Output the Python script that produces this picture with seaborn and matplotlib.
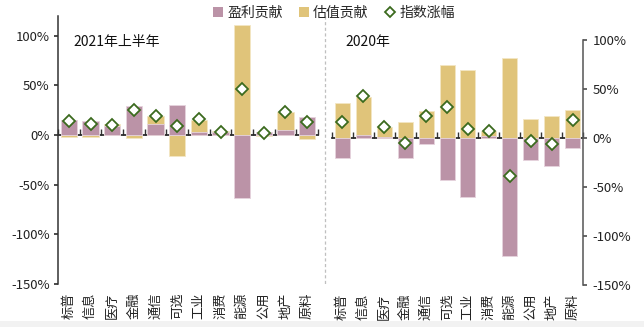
import numpy as np
import pandas as pd
import matplotlib
matplotlib.use("Agg")
import matplotlib.pyplot as plt
from matplotlib.patches import Patch, Rectangle
from matplotlib.lines import Line2D
import seaborn as sns

# ---------------- data ----------------
sectors = ["标普", "信息", "医疗", "金融", "通信", "可选", "工业", "消费", "能源", "公用", "地产", "原料"]

# 2021H1
earn_2021 = [15.7, 14.0, 9.6, 29.0, 11.0, 30.5, 3.5, 3.5, -63.4, 3.0, 5.6, 18.0]
val_2021 = [-1.5, -2.0, 1.3, -3.2, 8.4, -20.7, 12.2, 0.5, 110.6, -0.8, 17.4, -3.8]
idx_2021 = [14.3, 11.6, 10.6, 25.8, 19.4, 9.3, 16.3, 3.5, 46.7, 2.2, 23.7, 13.6]

# 2020
earn_2020 = [-19.9, 3.1, 1.4, -20.7, -5.8, -43.0, -60.3, 2.0, -120.6, -22.7, -29.0, -10.3]
val_2020 = [35.6, 39.0, 9.6, 15.9, 27.6, 74.9, 69.0, 5.0, 81.7, 19.0, 22.4, 28.3]
idx_2020 = [15.9, 42.4, 11.0, -4.8, 22.1, 31.7, 9.0, 7.6, -38.6, -3.4, -5.8, 18.3]

yticks_left = [100, 50, 0, -50, -100, -150]
yticks_right = [100, 50, 0, -50, -100, -150]
legend_labels = ["盈利贡献", "估值贡献", "指数涨幅"]
panel_titles = ["2021年上半年", "2020年"]

PURPLE = "#bb93a7"
GOLD = "#e0c47a"
GREEN = "#3b6a1e"
SPINE = "#333333"

sns.set_theme(style="white")
plt.rcParams["font.family"] = ["Noto Sans CJK SC", "DejaVu Sans"]
plt.rcParams["axes.unicode_minus"] = False

W, H = 644, 327
fig = plt.figure(figsize=(W / 100, H / 100), dpi=100)


def pct(v, pos=None):
    return f"{int(v)}%"


def draw_panel(ax, earn, val, idx, ylim, width):
    df = pd.DataFrame({"sector": sectors, "earn": earn, "val": val, "idx": idx})
    same = np.sign(df["earn"]) == np.sign(df["val"])
    df["val_top"] = np.where(same, df["earn"] + df["val"], df["val"])
    sns.barplot(data=df, x="sector", y="val_top", color=GOLD, saturation=1,
                width=width, edgecolor="#f3e6c4", linewidth=0.6, ax=ax, zorder=2)
    sns.barplot(data=df, x="sector", y="earn", color=PURPLE, saturation=1,
                width=width, edgecolor="#e6d3dd", linewidth=0.6, ax=ax, zorder=3)
    n_before = len(ax.lines)
    sns.pointplot(data=df, x="sector", y="idx", linestyle="none", markers="D",
                  color=GREEN, markersize=6.3, markeredgewidth=1.3,
                  errorbar=None, ax=ax, zorder=5)
    for ln in ax.lines[n_before:]:
        ln.set_markerfacecolor("white")
        ln.set_markeredgecolor(GREEN)
        ln.set_markeredgewidth(1.3)
        ln.set_markersize(6.3)
    ax.set_xlim(-0.5, len(sectors) - 0.5)
    ax.set_ylim(*ylim)
    ax.set_xlabel("")
    ax.set_ylabel("")
    ax.tick_params(axis="x", length=0, pad=6, labelsize=9.5, labelrotation=90,
                   colors="#222222")
    ax.spines["bottom"].set_visible(False)
    ax.spines["top"].set_visible(False)
    # zero line with category boundary ticks
    frac = -ylim[0] / (ylim[1] - ylim[0])
    sec = ax.secondary_xaxis(frac)
    sec.set_xticks(np.arange(-0.5, len(sectors), 1))
    sec.set_xticklabels([])
    sec.tick_params(axis="x", length=4, width=1.0, direction="out", color=SPINE)
    sec.spines["bottom"].set_color(SPINE)
    sec.spines["bottom"].set_linewidth(1.1)
    ax.yaxis.set_major_formatter(plt.FuncFormatter(pct))


# left panel
axL = fig.add_axes([58 / W, 1 - 284 / H, 260 / W, 268 / H])
draw_panel(axL, earn_2021, val_2021, idx_2021, (-150, 120), 0.74)
axL.set_yticks(yticks_left)
axL.spines["right"].set_visible(False)
axL.spines["left"].set_color(SPINE)
axL.spines["left"].set_linewidth(1.1)
axL.tick_params(axis="y", left=True, length=3, direction="out", color=SPINE,
                labelsize=9.5, pad=3, colors="#222222")
axL.tick_params(axis="y", color=SPINE)

# right panel
axR = fig.add_axes([332 / W, 1 - 285 / H, 251 / W, 245 / H])
draw_panel(axR, earn_2020, val_2020, idx_2020, (-150, 100), 0.72)
axR.set_yticks(yticks_right)
axR.yaxis.tick_right()
axR.spines["left"].set_visible(False)
axR.spines["right"].set_visible(True)
axR.spines["right"].set_color("#555555")
axR.spines["right"].set_linewidth(1.1)
axR.tick_params(axis="y", right=True, length=3, direction="out", color="#555555",
                labelsize=9.5, pad=4, colors="#222222")
axR.tick_params(axis="y", color="#555555")

# panel titles
fig.text(73 / W, 1 - 42 / H, panel_titles[0], fontsize=10, va="center", ha="left",
         color="#111111")
fig.text(345 / W, 1 - 42 / H, panel_titles[1], fontsize=10, va="center", ha="left",
         color="#111111")

# dashed separator
fig.add_artist(Line2D([325 / W, 325 / W], [1 - 16 / H, 1 - 284 / H],
                      transform=fig.transFigure, color="#bfbfbf", lw=0.9,
                      linestyle=(0, (2.5, 2))))

# legend
handles = [
    Patch(facecolor=PURPLE, edgecolor="none"),
    Patch(facecolor=GOLD, edgecolor="none"),
    Line2D([], [], linestyle="none", marker="D", markersize=5,
           markerfacecolor="white", markeredgecolor=GREEN, markeredgewidth=1.3),
]
fig.legend(handles, legend_labels, loc="center", bbox_to_anchor=(334 / W, 1 - 13 / H),
           ncol=3, frameon=False, fontsize=10, handlelength=0.7, handleheight=0.7,
           handletextpad=0.3, columnspacing=1.2, borderaxespad=0)

# grey strip at bottom
fig.add_artist(Rectangle((0, 0), 1, 6 / H, transform=fig.transFigure,
                         facecolor="#f2f2f2", edgecolor="none", zorder=-1))

fig.savefig("out.png", dpi=100)
